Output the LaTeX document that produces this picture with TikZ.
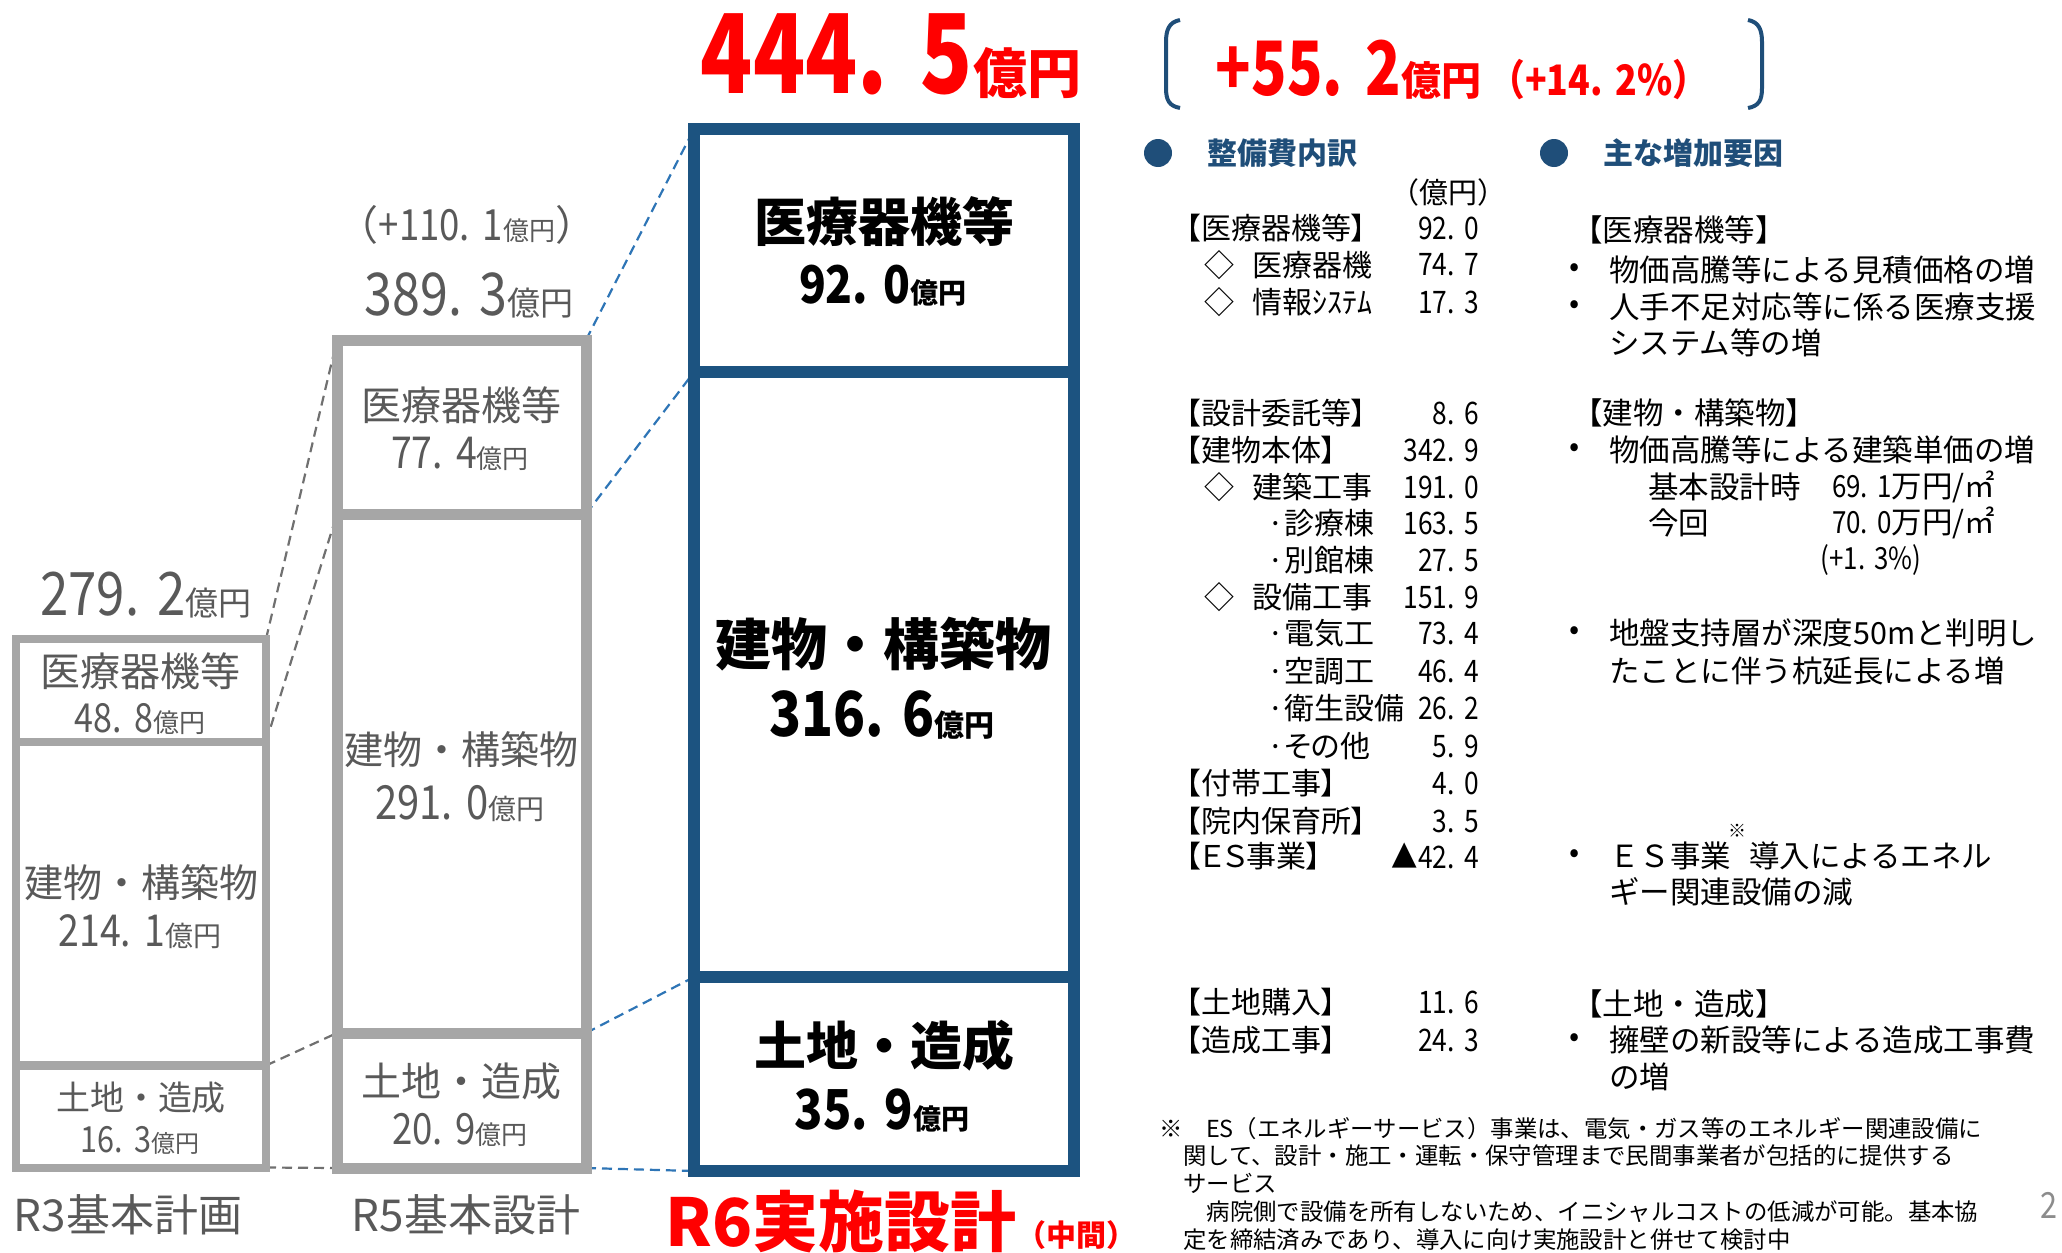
\documentclass[tikz,border=0pt]{standalone}
\usepackage{fontspec}
\setmainfont{Noto Sans CJK JP}
\newfontfamily\jp{Noto Sans CJK JP}
\newfontfamily\jpn[FakeStretch=0.85]{Noto Sans CJK JP}
\newfontfamily\jpc[FakeStretch=0.78]{Noto Sans CJK JP}
\newfontfamily\jpp[RawFeature=+palt]{Noto Sans CJK JP}
\newcommand\myfs[1]{\fontsize{#1}{#1}\selectfont}
\newcommand\pd{.\hspace{0.3em}}
\newcommand\amt[4]{{\jpn\myfs{#1}#2}{\jp\myfs{#3}#4}}
\definecolor{boxgray}{HTML}{A6A6A6}
\definecolor{txtgray}{HTML}{595959}
\definecolor{navy}{HTML}{1C5380}
\definecolor{dashblue}{HTML}{2E75B6}
\definecolor{dashgray}{HTML}{707070}
\definecolor{hdr}{HTML}{1F4E79}
\definecolor{bred}{HTML}{FF0000}
\definecolor{pgray}{HTML}{8C8C8C}
\usetikzlibrary{backgrounds}
\begin{document}
\begin{tikzpicture}[x=1pt,y=-1pt,
  cell3/.style={draw=boxgray,line width=8,rectangle,inner sep=0,outer sep=0},
  cell5/.style={draw=boxgray,line width=11,rectangle,inner sep=0,outer sep=0},
  cell6/.style={draw=navy,line width=12,rectangle,inner sep=0,outer sep=0},
  gdash/.style={draw=dashgray,line width=2.2,dash pattern=on 10pt off 6pt},
  bdash/.style={draw=dashblue,line width=2.2,dash pattern=on 10pt off 6pt},
  gt/.style={text=txtgray,inner sep=0,font=\jp},
  bt/.style={text=black,inner sep=0,font=\jp\bfseries},
  tl/.style={anchor=west,inner sep=0,font=\jpp\myfs{30}},
  tn/.style={anchor=east,inner sep=0,font=\jpn\myfs{31}},
  rt/.style={anchor=west,inner sep=0,font=\jp\myfs{30.5}},
  fn/.style={anchor=west,inner sep=0,font=\jp\myfs{23.4}},
  hdrdot/.style={circle,fill=hdr,inner sep=0,minimum size=28},
  brk/.style={draw=hdr,line width=4}
]
\useasboundingbox (0,0) rectangle (2062,1253);

% ---- cells ----
\node[cell3,minimum width=250,minimum height=103] (r3a) at (141,690.5) {};
\node[cell3,minimum width=250,minimum height=323] (r3b) at (141,903.5) {};
\node[cell3,minimum width=250,minimum height=102] (r3c) at (141,1116.5) {};
\node[cell5,minimum width=249,minimum height=174] (r5a) at (461.5,427) {};
\node[cell5,minimum width=249,minimum height=519] (r5b) at (461.5,773.5) {};
\node[cell5,minimum width=249,minimum height=135] (r5c) at (461.5,1100.5) {};
\node[cell6,minimum width=380,minimum height=243] (r6a) at (884,250.5) {};
\node[cell6,minimum width=380,minimum height=605] (r6b) at (884,674.5) {};
\node[cell6,minimum width=380,minimum height=194] (r6c) at (884,1074) {};

\begin{scope}[on background layer]
\draw[gdash] (r3a.north east) -- (r5a.north west);
\draw[gdash] (r3b.north east) -- (r5b.north west);
\draw[gdash] (r3c.north east) -- (r5c.north west);
\draw[gdash] (r3c.south east) -- (r5c.south west);
\draw[bdash] (r5a.north east) -- (r6a.north west);
\draw[bdash] (r5b.north east) -- (r6b.north west);
\draw[bdash] (r5c.north east) -- (r6c.north west);
\draw[bdash] (r5c.south east) -- (r6c.south west);
\end{scope}

% ---- R3 ----
\node[gt,anchor=base] (r3tot) at (146,615) {\amt{60}{279\pd 2}{33}{億円}};
\node[gt,font=\jp\myfs{40}] (r3la) at (140,671) {医療器機等};
\node[gt,anchor=base] (r3va) at (140,732) {\amt{40}{48\pd 8}{26}{億円}};
\node[gt,font=\jp\myfs{39}] (r3lb) at (141,883) {建物・構築物};
\node[gt,anchor=base] (r3vb) at (140,946) {\amt{44}{214\pd 1}{28}{億円}};
\node[gt,font=\jp\myfs{34}] (r3lc) at (141,1098) {土地・造成};
\node[gt,anchor=base] (r3vc) at (140,1152) {\amt{36}{16\pd 3}{24}{億円}};
\node[gt,font=\jp\myfs{44}] (r3name) at (128,1215) {R3基本計画};

% ---- R5 ----
\node[gt,anchor=base] (r5inc) at (467,240) {{\jp\myfs{41}（}\amt{43}{+110\pd 1}{26}{億円}{\jp\myfs{41}）}};
\node[gt,anchor=base] (r5tot) at (469,315) {\amt{59}{389\pd 3}{33}{億円}};
\node[gt,font=\jp\myfs{40}] (r5la) at (461,405) {医療器機等};
\node[gt,anchor=base] (r5va) at (460,468) {\amt{44}{77\pd 4}{26}{億円}};
\node[gt,font=\jp\myfs{39}] (r5lb) at (461,750) {建物・構築物};
\node[gt,anchor=base] (r5vb) at (460,819) {\amt{47}{291\pd 0}{28}{億円}};
\node[gt,font=\jp\myfs{40}] (r5lc) at (461,1081) {土地・造成};
\node[gt,anchor=base] (r5vc) at (460,1144) {\amt{43}{20\pd 9}{26}{億円}};
\node[gt,font=\jp\myfs{44}] (r5name) at (466,1215) {R5基本設計};

% ---- R6 ----
\node[bt,font=\jp\bfseries\myfs{52}] (r6la) at (884,222) {医療器機等};
\node[bt,anchor=base] (r6va) at (883,303) {\bfseries\amt{52}{92\pd 0}{28}{億円}};
\node[bt,font=\jp\bfseries\myfs{56}] (r6lb) at (883,644) {建物・構築物};
\node[bt,anchor=base] (r6vb) at (882,736) {\bfseries\amt{62}{316\pd 6}{30}{億円}};
\node[bt,font=\jp\bfseries\myfs{52}] (r6lc) at (884,1046) {土地・造成};
\node[bt,anchor=base] (r6vc) at (882,1129) {\bfseries\amt{55}{35\pd 9}{28}{億円}};
\node[inner sep=0,anchor=base,text=bred] (r6name) at (901,1246) {\jp\bfseries{\myfs{66}R6実施設計}{\myfs{30}（中間）}};

% ---- top totals ----
\node[inner sep=0,anchor=base,text=bred] (tot) at (891,93) {\bfseries{\jpc\myfs{110}444\pd 5}{\jp\myfs{54}億円}};
\node[inner sep=0,anchor=base,text=bred] (inc) at (1462,95) {\bfseries{\jpc\myfs{75}+55\pd 2}{\jp\myfs{40}億円}\hspace{8pt}{\jpn\myfs{42}（+14\pd 2\%）}};
\draw[brk] (1180,20) .. controls (1169,22) and (1166,30) .. (1166,42) -- (1166,88) .. controls (1166,100) and (1169,106) .. (1180,108);
\draw[brk] (1748,20) .. controls (1759,22) and (1762,30) .. (1762,42) -- (1762,88) .. controls (1762,100) and (1759,106) .. (1748,108);

% ---- headers ----
\node[hdrdot] (d1) at (1158,153) {};
\node[inner sep=0,text=hdr,font=\jp\bfseries\myfs{30}] (h1) at (1282,153) {整備費内訳};
\node[hdrdot] (d2) at (1554,153) {};
\node[inner sep=0,text=hdr,font=\jp\bfseries\myfs{30}] (h2) at (1693,153) {主な増加要因};

% ---- breakdown table ----
\node[inner sep=0,font=\jp\myfs{29}] (unit) at (1448,192) {（億円）};
\foreach \x/\y/\lab/\num [count=\i] in {
1186/228/{【医療器機等】}/{92\pd 0},
1204/265/{◇\hspace{0.6em}医療器機}/{74\pd 7},
1204/302/{◇\hspace{0.6em}情報ｼｽﾃﾑ}/{17\pd 3},
1186/413/{【設計委託等】}/{8\pd 6},
1186/450/{【建物本体】}/{342\pd 9},
1204/487/{◇\hspace{0.6em}建築工事}/{191\pd 0},
1267/523/{·診療棟}/{163\pd 5},
1267/560/{·別館棟}/{27\pd 5},
1204/597/{◇\hspace{0.6em}設備工事}/{151\pd 9},
1267/633/{·電気工}/{73\pd 4},
1267/671/{·空調工}/{46\pd 4},
1267/708/{·衛生設備}/{26\pd 2},
1267/746/{·その他}/{5\pd 9},
1186/783/{【付帯工事】}/{4\pd 0},
1186/821/{【院内保育所】}/{3\pd 5},
1186/856/{【ＥＳ事業】}/{▲42\pd 4},
1186/1002/{【土地購入】}/{11\pd 6},
1186/1040/{【造成工事】}/{24\pd 3}}
{
  \node[tl] (L\i) at (\x,\y) {\lab};
  \node[tn] (N\i) at (1479,\y) {\num};
}

% ---- reasons ----
\node[rt] (c1) at (1572,230) {【医療器機等】};
\foreach \y/\txt [count=\i] in {
270/{物価高騰等による見積価格の増},
307/{人手不足対応等に係る医療支援},
450/{物価高騰等による建築単価の増},
633/{地盤支持層が深度50mと判明し},
856/{ＥＳ事業\hspace{18pt}導入によるエネル},
1040/{擁壁の新設等による造成工事費}}
{
  \node[inner sep=0,font=\jp\myfs{30}] (b\i) at (1575,\y) {•};
  \node[rt] (p\i) at (1609,\y) {\txt};
}
\node[rt] (q1) at (1609,343) {システム等の増};
\node[rt] (c2) at (1572,413) {【建物・構築物】};
\node[rt] (k1) at (1648,487) {基本設計時};
\node[rt] (k2) at (1832,487) {{\jpn 69\pd 1}万円/㎡};
\node[rt] (k3) at (1648,523) {今回};
\node[rt] (k4) at (1832,523) {{\jpn 70\pd 0}万円/㎡};
\node[inner sep=0,font=\jpn\myfs{30.5}] (k5) at (1871,560) {(+1\pd 3\%)};
\node[rt] (q2) at (1609,671) {たことに伴う杭延長による増};
\node[inner sep=0,font=\jp\myfs{18}] (ast) at (1737,831) {※};
\node[rt] (q3) at (1609,892) {ギー関連設備の減};
\node[rt] (c3) at (1572,1004) {【土地・造成】};
\node[rt] (q4) at (1609,1077) {の増};

% ---- footnote ----
\node[fn] (f1) at (1159,1129) {※　ES（エネルギーサービス）事業は、電気・ガス等のエネルギー関連設備に};
\node[fn] (f2) at (1183,1156) {関して、設計・施工・運転・保守管理まで民間事業者が包括的に提供する};
\node[fn] (f3) at (1183,1183) {サービス};
\node[fn] (f4) at (1183,1212) {　病院側で設備を所有しないため、イニシャルコストの低減が可能。基本協};
\node[fn] (f5) at (1183,1240) {定を締結済みであり、導入に向け実施設計と併せて検討中};
\node[inner sep=0,text=pgray,font=\jpn\myfs{36}] (pg) at (2049,1205) {2};
\end{tikzpicture}
\end{document}
